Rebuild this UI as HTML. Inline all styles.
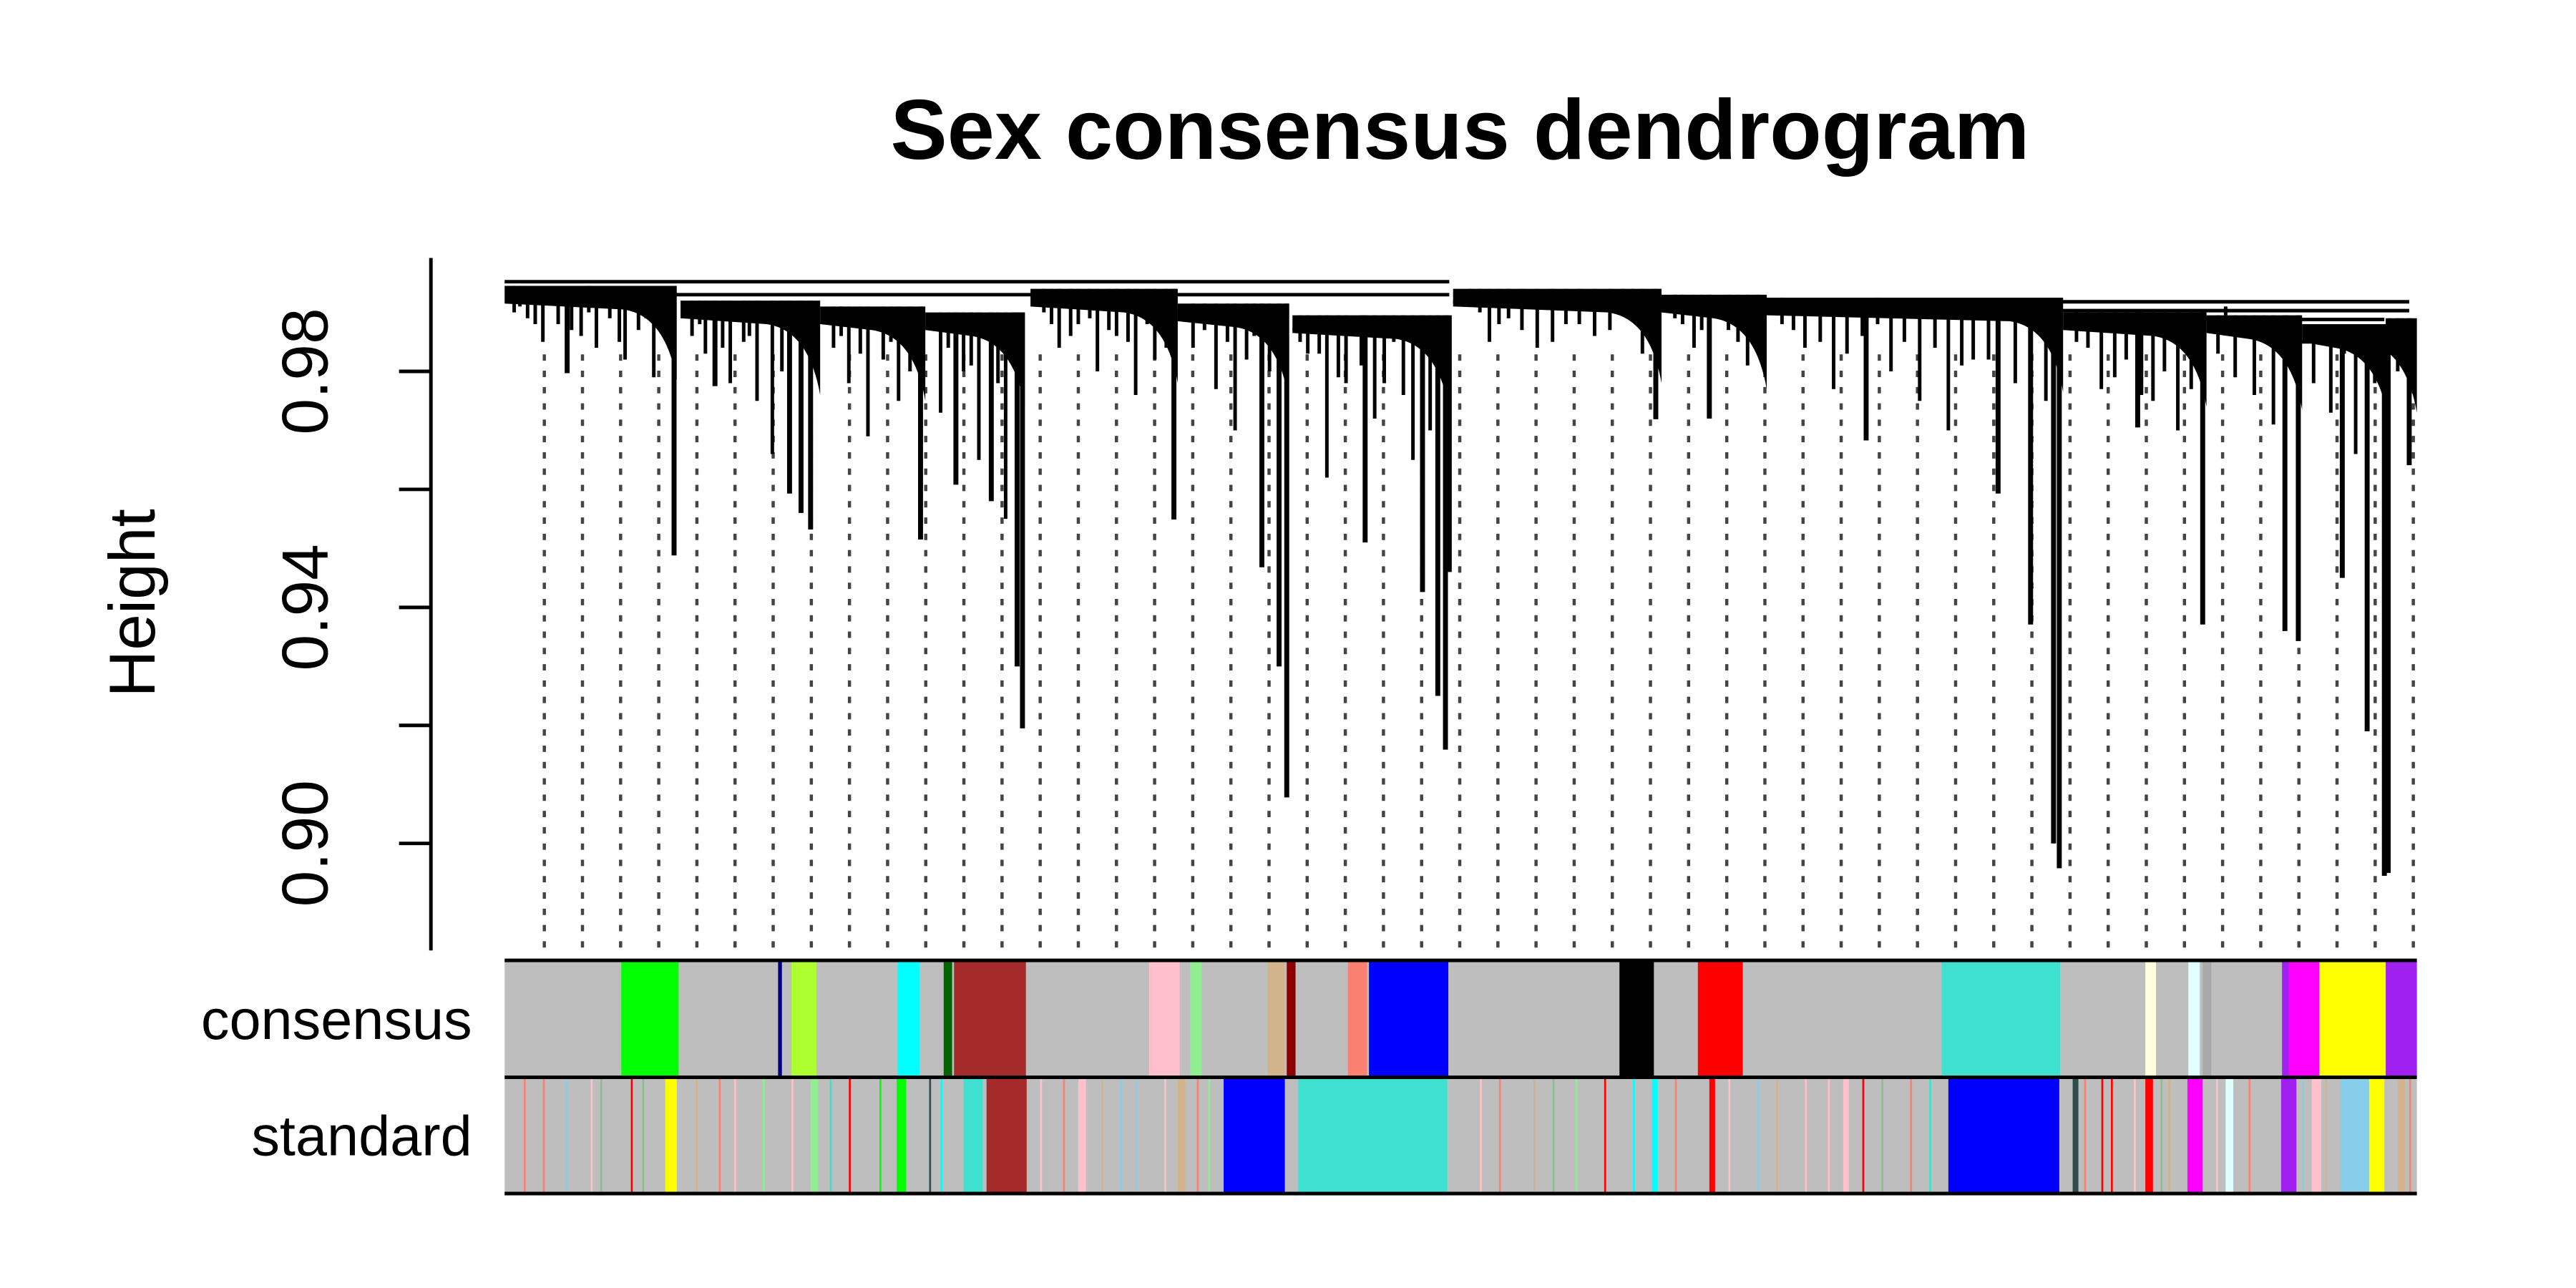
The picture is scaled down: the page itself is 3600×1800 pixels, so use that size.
<!DOCTYPE html>
<html><head><meta charset="utf-8"><style>
html,body{margin:0;padding:0;background:#fff}
svg{display:block}
text{font-family:"Liberation Sans",sans-serif}
</style></head><body>
<svg id="chart" width="3600" height="1800" viewBox="0 0 3600 1800" xmlns="http://www.w3.org/2000/svg">
<g transform="scale(0.9905)">
<text x="2060" y="224" text-anchor="middle" font-size="120" font-weight="bold">Sex consensus dendrogram</text>
<text transform="translate(218,851) rotate(-90)" text-anchor="middle" font-size="92">Height</text>
<g id="yaxis"></g>
<g id="guides"></g>
<g id="dendro"></g>
<g id="bars"></g>
<text x="666" y="1466" text-anchor="end" font-size="80">consensus</text>
<text x="666" y="1630" text-anchor="end" font-size="80">standard</text>
</g>
</svg>
<script>
const yTicks=[0.90,0.92,0.94,0.96,0.98];
const yTickLabels=["0.90","","0.94","","0.98"];
const clStart=[0,92,165,220,275,352,412,496,605,660,815,890,940,985];
const clEnd=[90,165,220,272,352,410,494,605,660,815,890,940,985,1000];
const clTop=[0.9945,0.992,0.991,0.990,0.9940,0.9915,0.9895,0.9940,0.9930,0.9925,0.990,0.9895,0.988,0.989];
const dropX=[88.6,160,217.5,270.8,350,409,492,602,712,813,888,938,983,996,32.7,149,110,236,254.5,396,450,480,630,781,798,854,931,974,961,494,155,268,405,488,810,985];
const dropH=[0.9488,0.9532,0.9515,0.9195,0.9549,0.9078,0.9159,0.9719,0.9683,0.8958,0.9371,0.9343,0.8945,0.9641,0.9797,0.9593,0.9775,0.9608,0.958,0.9468,0.951,0.9426,0.972,0.9593,0.9371,0.9705,0.936,0.919,0.945,0.946,0.956,0.93,0.93,0.925,0.90,0.895];
const fringeX=[5,12,20,28,40,48,55,63,70,78,98,105,118,125,132,140,172,180,190,198,206,228,240,248,262,282,290,300,310,320,330,340,360,372,382,392,420,430,440,455,465,475,505,515,525,540,555,570,585,595,612,622,640,650,668,680,695,710,725,740,755,768,822,835,848,862,875,896,905,915,925,946,955,968,990,8,16,35,44,60,74,84,102,114,128,145,176,186,202,212,232,244,258,266,286,296,306,316,326,336,346,366,378,388,400,416,426,436,448,460,470,484,510,520,532,548,562,578,590,616,626,645,655,674,688,702,718,732,748,762,776,790,806,828,842,856,868,882,900,910,920,932,950,962,978,992];
const fringeH=[0.990,0.989,0.985,0.988,0.986,0.984,0.989,0.982,0.987,0.979,0.986,0.983,0.978,0.985,0.975,0.966,0.984,0.978,0.969,0.982,0.975,0.973,0.980,0.965,0.955,0.990,0.984,0.988,0.980,0.986,0.976,0.982,0.984,0.977,0.970,0.986,0.983,0.962,0.978,0.972,0.985,0.965,0.991,0.985,0.989,0.984,0.988,0.986,0.990,0.983,0.989,0.984,0.987,0.981,0.988,0.984,0.977,0.986,0.980,0.975,0.970,0.982,0.985,0.977,0.982,0.975,0.970,0.983,0.979,0.976,0.971,0.978,0.973,0.966,0.980,0.991,0.988,0.987,0.990,0.985,0.989,0.986,0.988,0.984,0.986,0.980,0.986,0.983,0.985,0.980,0.984,0.981,0.978,0.983,0.988,0.986,0.989,0.987,0.985,0.988,0.984,0.987,0.985,0.982,0.980,0.985,0.983,0.979,0.981,0.978,0.976,0.970,0.990,0.988,0.987,0.985,0.988,0.987,0.989,0.988,0.987,0.985,0.986,0.987,0.985,0.983,0.988,0.985,0.984,0.981,0.982,0.978,0.975,0.984,0.979,0.976,0.980,0.977,0.991,0.989,0.988,0.986,0.985,0.983,0.978,0.985];
const mergeL=[0,85,412,496,660,880,935];
const mergeR=[494,494,494,996,996,983,983];
const mergeH=[0.9952,0.993,0.9872,0.9918,0.9903,0.9888,0.985];
const consStart=[61,143,150,205.5,229.6,235,337,358.5,399,409,441,452,583,624,751.5,858,880.5,888,929.5,933,949,983.7];
const consEnd=[91,145,163,217,234,272.6,353,364.6,408,413.6,451,493.5,601,647.5,813.4,863.6,886.5,892.5,933,949,983.7,1000];
const consColor=["#00ff00","#000080","#adff2f","#00ffff","#006400","#a52a2a","#ffc0cb","#90ee90","#d2b48c","#8b0000","#fa8072","#0000ff","#000000","#ff0000","#40e0d0","#ffffe0","#e0ffff","#a9a9a9","#a020f0","#ff00ff","#ffff00","#a020f0"];
const stdStart=[84,252,240,376,415,755,880,858,929,960,975,160,205,300,352,440,600,630,700,820,900,945,990,20,50,120,180,330,520,560,680,720,840,870,10,32,45,66,72,100,112,135,150,170,196,222,228,262,280,292,312,322,345,362,368,384,394,432,455,470,510,538,548,575,590,612,640,655,665,692,710,735,745,772,790,800,826,835,852,866,895,912,940,952,966,970,996];
const stdEnd=[90,273,250,408,493,813,888,862,937,975,983,164,210,304,356,444,603,633,703,823,904,950,994,21,51,121,181,331,521,561,681,721,841,871,11,33,46,67,73,101,113,136,151,171,197,223,229,263,281,293,313,323,346,363,369,385,395,433,456,471,511,539,549,576,591,613,641,656,666,693,711,736,746,773,791,801,827,836,853,867,896,913,941,953,967,971,997];
const stdColor=["#ffff00","#a52a2a","#40e0d0","#0000ff","#40e0d0","#0000ff","#ff00ff","#ff0000","#a020f0","#87ceeb","#ffff00","#90ee90","#00ff00","#ffc0cb","#d2b48c","#fa8072","#00ffff","#ff0000","#ffc0cb","#2f4f4f","#e0ffff","#ffc0cb","#d2b48c","#fa8072","#8fbc8f","#ffc0cb","#ff0000","#87ceeb","#fa8072","#90ee90","#ffc0cb","#8fbc8f","#ff0000","#d2b48c","#fa8072","#87ceeb","#ffc0cb","#ff0000","#8fbc8f","#d2b48c","#fa8072","#90ee90","#ffc0cb","#40e0d0","#00ff00","#2f4f4f","#00ffff","#ff0000","#ffc0cb","#fa8072","#d2b48c","#87ceeb","#ffc0cb","#fa8072","#90ee90","#ffff00","#ff0000","#ffc0cb","#87ceeb","#fa8072","#ffc0cb","#d2b48c","#8fbc8f","#ff0000","#00ffff","#fa8072","#ffc0cb","#87ceeb","#d2b48c","#ffc0cb","#ff0000","#fa8072","#40e0d0","#ffc0cb","#87ceeb","#d2b48c","#fa8072","#ff0000","#ffc0cb","#8fbc8f","#ffc0cb","#fa8072","#87ceeb","#d2b48c","#ff0000","#ffc0cb","#fa8072"];
const guideCount=50;

const NS="http://www.w3.org/2000/svg";
const X0=712,X1=3410;
function xs(i){return X0+(X1-X0)*i/1000;}
function ys(h){return 524+(0.98-h)*8325;}
function mk(tag,attrs,parent){const e=document.createElementNS(NS,tag);for(const k in attrs)e.setAttribute(k,attrs[k]);parent.appendChild(e);return e;}
const yaxis=document.getElementById('yaxis');
let l=mk('line',{x1:608,x2:608,y1:364,y2:1341,stroke:'#000','stroke-width':5},yaxis);


yTicks.forEach((t,i)=>{
 const tk=mk('line',{x1:563,x2:608,y1:ys(t),y2:ys(t),stroke:'#000','stroke-width':5},yaxis);
 
 
 if(yTickLabels[i]){
  const tx=mk('text',{transform:`translate(462,${ys(t)}) rotate(-90)`,'text-anchor':'middle','font-size':92},yaxis);
  
  
  tx.textContent=yTickLabels[i];
 }
});
const guides=document.getElementById('guides');
for(let k=0;k<guideCount;k++){
 const gx=768+k*(3405-768)/(guideCount-1);
 const g=mk('line',{x1:gx,x2:gx,y1:500,y2:1341,stroke:'#444','stroke-width':4.5,'stroke-dasharray':'9 14'},guides);
 
 
}
const dendro=document.getElementById('dendro');
mergeL.forEach((a,i)=>{
 const m=mk('line',{x1:xs(a),x2:xs(mergeR[i]),y1:ys(mergeH[i]),y2:ys(mergeH[i]),stroke:'#000','stroke-width':5},dendro);
 
 
});
clStart.forEach((s,i)=>{
 const e=clEnd[i],t=clTop[i];
 const d=`M${xs(s)},${ys(t)} L${xs(e)},${ys(t)} L${xs(e)},${ys(t-0.016)} Q${xs(e-6)},${ys(t-0.005)} ${xs(e-28)},${ys(t-0.004)} L${xs(s)},${ys(t-0.003)} Z`;
 const p=mk('path',{d:d,fill:'#000'},dendro);
 
 
});
function topAt(x){let top=0.995;for(let c=0;c<clStart.length;c++){if(x>=clStart[c]&&x<=clEnd[c])top=clTop[c];}return top;}
fringeX.forEach((fx,i)=>{
 const f=mk('line',{x1:xs(fx),x2:xs(fx),y1:ys(topAt(fx)),y2:ys(fringeH[i]),stroke:'#000','stroke-width':5},dendro);
 
 
});
dropX.forEach((dx,i)=>{
 const f=mk('line',{x1:xs(dx),x2:xs(dx),y1:ys(topAt(dx)),y2:ys(dropH[i]),stroke:'#000','stroke-width':7},dendro);
 
 
});
const bars=document.getElementById('bars');
function band(y0,y1,starts,ends,cols,name){
 const bg=mk('rect',{x:X0,y:y0,width:X1-X0,height:y1-y0,fill:'#bebebe'},bars);
 
 
 for(let i=starts.length-1;i>=0;i--){
  const s=starts[i];
  const r=mk('rect',{x:xs(s),y:y0,width:Math.max(2,xs(ends[i])-xs(s)),height:y1-y0,fill:cols[i]},bars);
  
  
 }
}
band(1355,1520,consStart,consEnd,consColor,'consensus');
band(1520,1684,stdStart,stdEnd,stdColor,'standard');
[1355,1520,1684].forEach(y=>{
 const b=mk('line',{x1:X0,x2:X1,y1:y,y2:y,stroke:'#000','stroke-width':5},bars);
 
 
});
</script>
</body></html>
